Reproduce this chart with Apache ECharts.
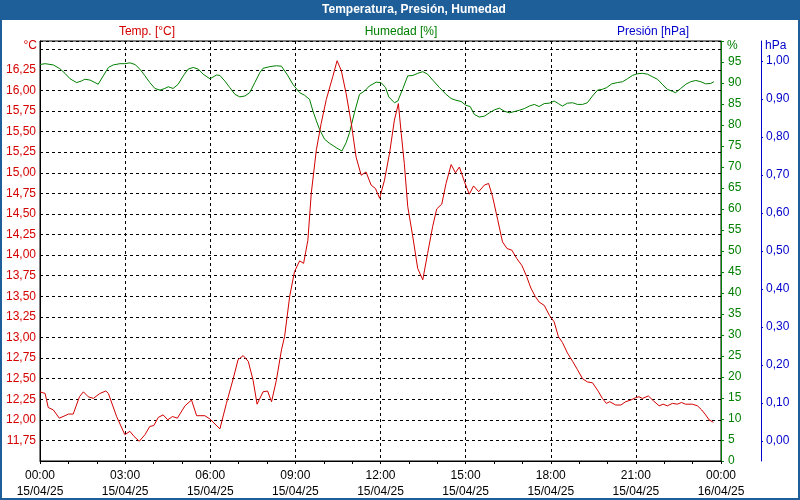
<!DOCTYPE html>
<html>
<head>
<meta charset="utf-8">
<script src="https://cdn.jsdelivr.net/npm/echarts@6.0.0/dist/echarts.min.js"></script>
<style>
html,body{margin:0;padding:0;background:#fff;}
#chart{width:800px;height:500px;}
</style>
</head>
<body>
<div id="chart"></div>
<script>
// ---- Data (hours since 15/04/25 00:00) ----
const tempHours = [0,0.18,0.29,0.47,0.68,0.88,1.0,1.17,1.39,1.53,1.70,1.88,2.11,2.32,2.41,2.70,2.99,3.17,3.31,3.50,3.70,3.87,4.01,4.17,4.34,4.50,4.67,4.84,5.11,5.34,5.52,5.81,5.99,6.34,6.57,6.81,6.98,7.16,7.34,7.51,7.65,7.86,8.02,8.16,8.33,8.51,8.62,8.80,8.97,9.15,9.29,9.44,9.56,9.74,9.91,10.09,10.32,10.47,10.62,10.79,10.97,11.14,11.32,11.49,11.67,11.82,11.97,12.14,12.32,12.49,12.63,12.73,12.84,12.96,13.14,13.31,13.49,13.66,13.84,13.98,14.16,14.31,14.49,14.64,14.78,14.96,15.13,15.28,15.46,15.66,15.81,15.95,16.13,16.30,16.46,16.63,16.80,16.99,17.15,17.30,17.45,17.59,17.77,17.95,18.12,18.27,18.41,18.59,18.77,18.94,19.12,19.29,19.47,19.65,19.82,19.96,20.08,20.29,20.47,20.64,20.82,21.00,21.11,21.23,21.44,21.62,21.82,21.96,22.11,22.29,22.46,22.61,22.75,22.99,23.17,23.32,23.46,23.58,23.73];
const tempValues = [12.34,12.32,12.15,12.12,12.02,12.05,12.07,12.07,12.28,12.34,12.28,12.26,12.32,12.35,12.32,12.04,11.82,11.86,11.80,11.74,11.82,11.92,11.93,12.03,12.06,12.00,12.04,12.02,12.17,12.24,12.05,12.05,12.01,11.89,12.20,12.50,12.73,12.78,12.71,12.48,12.19,12.34,12.35,12.22,12.48,12.85,13.01,13.50,13.80,13.93,13.90,14.18,14.75,15.28,15.60,15.89,16.17,16.36,16.24,15.96,15.60,15.19,14.97,15.01,14.85,14.81,14.69,14.91,15.24,15.64,15.84,15.48,15.11,14.59,14.22,13.84,13.70,14.02,14.35,14.56,14.62,14.87,15.10,15.00,15.07,14.89,14.74,14.84,14.77,14.85,14.87,14.71,14.43,14.16,14.08,14.06,13.96,13.87,13.74,13.60,13.50,13.43,13.39,13.27,13.19,13.01,12.94,12.81,12.71,12.61,12.50,12.46,12.45,12.36,12.26,12.20,12.22,12.18,12.18,12.22,12.24,12.27,12.28,12.26,12.29,12.23,12.17,12.19,12.17,12.20,12.19,12.21,12.19,12.19,12.17,12.12,12.06,12.00,11.97];

const humHours = [0,0.18,0.47,0.70,0.88,1.06,1.29,1.47,1.58,1.76,1.94,2.05,2.23,2.41,2.58,2.82,2.99,3.17,3.35,3.52,3.70,3.87,4.05,4.23,4.40,4.52,4.69,4.87,5.05,5.22,5.40,5.58,5.75,5.99,6.22,6.34,6.51,6.69,6.87,7.04,7.22,7.39,7.57,7.75,7.86,8.10,8.33,8.51,8.56,8.74,8.91,9.15,9.32,9.50,9.62,9.74,9.85,10.03,10.21,10.44,10.64,10.79,10.91,11.08,11.26,11.44,11.61,11.85,12.02,12.18,12.29,12.49,12.61,12.79,12.96,13.14,13.31,13.49,13.66,13.84,14.08,14.31,14.49,14.66,14.84,15.01,15.16,15.31,15.48,15.66,15.84,16.01,16.19,16.36,16.54,16.72,16.89,17.07,17.24,17.42,17.59,17.77,17.95,18.12,18.27,18.41,18.59,18.77,18.94,19.12,19.29,19.47,19.65,19.82,19.97,20.15,20.35,20.53,20.70,20.88,21.05,21.23,21.41,21.58,21.76,21.93,22.11,22.29,22.40,22.58,22.76,22.93,23.11,23.29,23.46,23.64,23.75];
const humValues = [94.4,94.6,94.3,93.4,92.3,91.0,90.1,90.5,90.9,90.7,90.1,89.7,91.7,93.7,94.3,94.6,94.6,94.8,94.4,93.3,91.7,90.1,88.7,88.3,88.7,89.1,88.7,89.7,91.7,93.3,93.7,93.3,92.1,91.0,91.9,91.8,90.5,88.9,87.3,86.7,86.9,87.7,90.1,92.5,93.5,93.9,94.1,94.0,93.7,91.7,89.7,87.7,87.1,86.1,83.3,81.0,79.0,76.6,75.6,74.6,73.8,75.8,78.2,82.9,87.3,88.1,89.3,90.2,90.1,88.9,86.7,85.3,85.7,88.7,91.7,91.8,92.3,92.7,92.1,90.7,88.9,87.3,86.3,85.9,85.6,84.7,84.4,82.5,81.9,82.1,82.9,83.6,84.0,83.3,82.9,83.2,83.5,83.9,84.5,84.9,84.4,85.1,85.2,85.7,85.1,84.5,85.2,85.3,84.9,84.9,85.3,86.9,88.3,88.5,88.9,89.8,90.1,90.3,91.0,91.8,92.2,92.3,92.1,91.5,90.9,89.7,88.5,88.0,87.7,88.7,89.7,90.3,90.6,90.3,89.8,89.9,90.3];

const pressureTicks = [0,0.1,0.2,0.3,0.4,0.5,0.6,0.7,0.8,0.9,1.0];
const dateLabels = ['15/04/25','16/04/25'];

// ---- Chart ----
const FONT = "'Liberation Sans', Arial, sans-serif";
const RED = '#d40000', GREEN = '#008000', BLUE = '#0000cc', BAR = '#1f5f99';
const pad = n => (n < 10 ? '0' : '') + n;
const comma = (v, d) => v.toFixed(d).replace('.', ',');

const chart = echarts.init(document.getElementById('chart'), null, {renderer: 'canvas'});
chart.setOption({
  animation: false,
  backgroundColor: '#fff',
  textStyle: {fontFamily: FONT, fontSize: 12},
  grid: {left: 40, right: 79, top: 41, bottom: 39, show: true, borderColor: '#000', borderWidth: 1, containLabel: false},
  xAxis: {
    type: 'value', min: 0, max: 24, interval: 3,
    axisLine: {show: true, lineStyle: {color: '#000', width: 1}},
    axisTick: {show: true, length: 3, lineStyle: {color: '#000'}},
    minorTick: {show: true, splitNumber: 3, length: 3, lineStyle: {color: '#000'}},
    axisLabel: {
      color: '#000', fontFamily: FONT, fontSize: 12, margin: 7, lineHeight: 16,
      showMinLabel: true, showMaxLabel: true,
      formatter: v => pad(v % 24) + ':00\n' + (v >= 24 ? dateLabels[1] : dateLabels[0])
    },
    splitLine: {show: true, lineStyle: {color: '#000', type: [3, 3], width: 1}}
  },
  yAxis: [
    {
      type: 'value', position: 'left', min: 11.5, max: 16.6, interval: 0.25,
      axisLine: {show: true, onZero: false, lineStyle: {color: '#000'}},
      axisTick: {show: false},
      axisLabel: {
        color: RED, fontFamily: FONT, fontSize: 12, margin: 4,
        formatter: v => (v < 11.7 || v > 16.3) ? '' : comma(v, 2)
      },
      splitLine: {show: true, lineStyle: {color: '#000', type: [3, 3], width: 1}}
    },
    {
      type: 'value', position: 'right', min: 0, max: 100, interval: 5,
      axisLine: {show: true, onZero: false, lineStyle: {color: GREEN}},
      axisTick: {show: true, length: 3, lineStyle: {color: GREEN}},
      axisLabel: {color: GREEN, fontFamily: FONT, fontSize: 12, margin: 7,
        formatter: v => v >= 100 ? '' : String(v)},
      splitLine: {show: false}
    },
    {
      type: 'value', position: 'right', offset: 40, min: -0.053, max: 1.053,
      axisLine: {show: true, onZero: false, lineStyle: {color: BLUE}},
      axisTick: {show: true, length: 2, customValues: pressureTicks, lineStyle: {color: BLUE}},
      axisLabel: {color: BLUE, fontFamily: FONT, fontSize: 12, margin: 5, customValues: pressureTicks,
        formatter: v => comma(v, 2)},
      splitLine: {show: false}
    }
  ],
  series: [
    {
      name: 'Humedad', type: 'line', yAxisIndex: 1, symbol: 'none', smooth: false,
      lineStyle: {color: GREEN, width: 1}, itemStyle: {color: GREEN},
      data: humHours.map((h, i) => [h, humValues[i]]), z: 3
    },
    {
      name: 'Temp.', type: 'line', yAxisIndex: 0, symbol: 'none', smooth: false,
      lineStyle: {color: RED, width: 1}, itemStyle: {color: RED},
      data: tempHours.map((h, i) => [h, tempValues[i]]), z: 4
    }
  ],
  graphic: [
    {type: 'rect', shape: {x: 0, y: 0, width: 800, height: 20}, style: {fill: BAR}, z: 100},
    {type: 'rect', shape: {x: 1, y: 1, width: 798, height: 498}, style: {fill: 'none', stroke: BAR, lineWidth: 2}, z: 100},
    {type: 'text', x: 414, y: 10, z: 101, style: {text: 'Temperatura, Presión, Humedad', fill: '#fff', font: 'bold 12px ' + FONT, textAlign: 'center', textVerticalAlign: 'middle'}},
    {type: 'text', x: 147, y: 32, z: 101, style: {text: 'Temp. [°C]', fill: RED, font: '12px ' + FONT, textAlign: 'center', textVerticalAlign: 'middle'}},
    {type: 'text', x: 401, y: 32, z: 101, style: {text: 'Humedad [%]', fill: GREEN, font: '12px ' + FONT, textAlign: 'center', textVerticalAlign: 'middle'}},
    {type: 'text', x: 653, y: 32, z: 101, style: {text: 'Presión [hPa]', fill: BLUE, font: '12px ' + FONT, textAlign: 'center', textVerticalAlign: 'middle'}},
    {type: 'text', x: 37, y: 46, z: 101, style: {text: '°C', fill: RED, font: '12px ' + FONT, textAlign: 'right', textVerticalAlign: 'middle'}},
    {type: 'text', x: 727, y: 46, z: 101, style: {text: '%', fill: GREEN, font: '12px ' + FONT, textAlign: 'left', textVerticalAlign: 'middle'}},
    {type: 'text', x: 765, y: 46, z: 101, style: {text: 'hPa', fill: BLUE, font: '12px ' + FONT, textAlign: 'left', textVerticalAlign: 'middle'}}
  ]
});
</script>
</body>
</html>
